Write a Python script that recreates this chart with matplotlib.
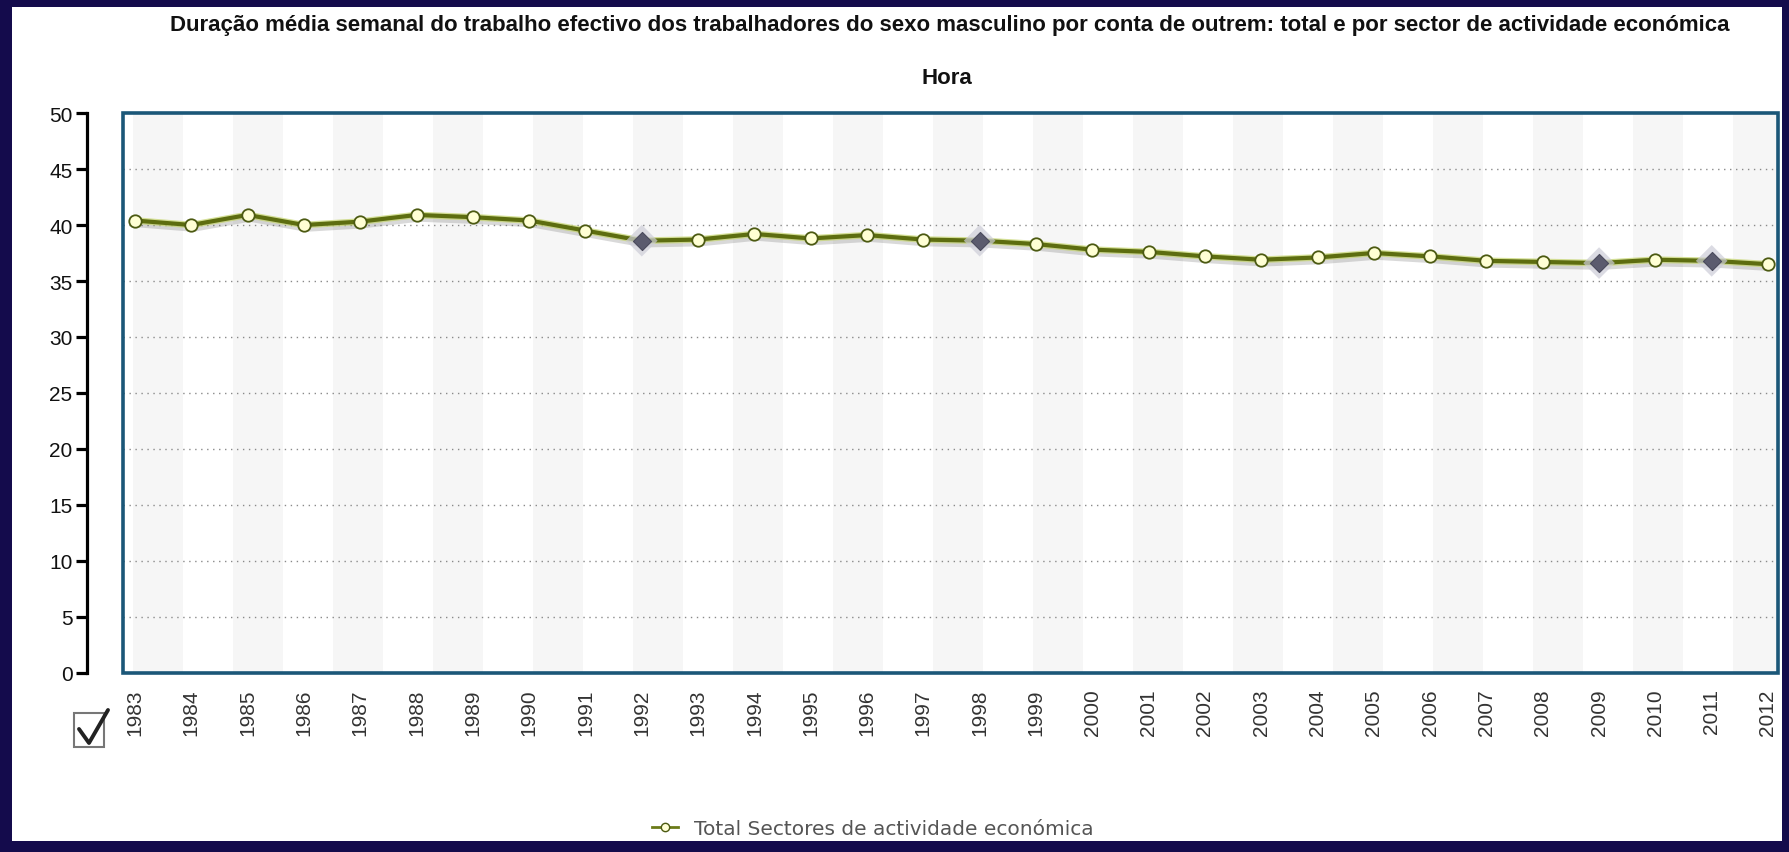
import matplotlib
matplotlib.use('Agg')
import matplotlib.pyplot as plt
import matplotlib.patheffects as pe
from matplotlib.patches import Rectangle
from matplotlib.lines import Line2D
from matplotlib import font_manager

# ---------------- data ----------------
years = list(range(1983, 2013))
hours = [40.4, 40.0, 40.9, 40.0, 40.3, 40.9, 40.7, 40.4, 39.5, 38.6,
         38.7, 39.2, 38.8, 39.1, 38.7, 38.6, 38.3, 37.8, 37.6, 37.2,
         36.9, 37.1, 37.5, 37.2, 36.8, 36.7, 36.6, 36.9, 36.8, 36.5]
break_years = [1992, 1998, 2009, 2011]
y_ticks = list(range(0, 51, 5))
grid_levels = list(range(5, 50, 5))
title = ("Duração média semanal do trabalho efectivo dos trabalhadores do sexo "
         "masculino por conta de outrem: total e por sector de actividade económica")
unit_label = "Hora"
series_label = "Total Sectores de actividade económica"

# ---------------- figure ----------------
W, H, DPI = 1789, 853, 100
fig = plt.figure(figsize=(W / DPI, H / DPI), dpi=DPI)
fig.patch.set_facecolor('#140b4c')

names = {f.name for f in font_manager.fontManager.ttflist}
title_family = 'Liberation Sans Narrow' if 'Liberation Sans Narrow' in names else 'Liberation Sans'


def fx(x):
    return x / W


def fy(y):
    return 1 - y / H


fig.add_artist(Rectangle((fx(12), fy(842)), fx(1782) - fx(12), fy(8) - fy(842),
                         transform=fig.transFigure, facecolor='white',
                         edgecolor='none', zorder=0))

ax = fig.add_axes([fx(123), fy(674), fx(1778) - fx(123), fy(114) - fy(674)])
ax.set_facecolor('white')

# spines first (set_position resets the y ticks)
for s in ['top', 'right', 'bottom']:
    ax.spines[s].set_visible(False)
ax.spines['left'].set_position(('outward', 25.9))
ax.spines['left'].set_color('black')
ax.spines['left'].set_linewidth(2.3)

# alternating vertical bands (background styling)
band_start = (133 - 123) / 1655
band_w = 50 / 1655
k = 0
while band_start + k * 2 * band_w < 1:
    x0 = band_start + k * 2 * band_w
    ax.add_patch(Rectangle((x0, 0), min(band_w, 1 - x0), 1, transform=ax.transAxes,
                           facecolor='#f6f6f6', edgecolor='none', zorder=0))
    k += 1

for v in grid_levels:
    ax.axhline(v, color='#8a8a8a', lw=1.0, ls=(0, (1, 3.3)), zorder=1)

# series line
ax.plot(years, hours, color='#c3d36a', lw=4.8, zorder=3, alpha=0.7,
        solid_capstyle='round',
        path_effects=[pe.SimpleLineShadow(offset=(1.5, -2.5), alpha=0.22, shadow_color='#555555'),
                      pe.Normal()])
ax.plot(years, hours, color='#5d6d10', lw=3.0, zorder=4, solid_capstyle='round')

norm_x = [y for y in years if y not in break_years]
norm_y = [h for y, h in zip(years, hours) if y not in break_years]
brk_x = [y for y in years if y in break_years]
brk_y = [h for y, h in zip(years, hours) if y in break_years]

ax.scatter(norm_x, norm_y, s=80, facecolor='#ffffd4', edgecolor='#4c5a12',
           linewidth=1.3, zorder=5)
ax.scatter(brk_x, brk_y, s=260, marker='D', facecolor='#cdcdd8', edgecolor='none',
           alpha=0.7, zorder=5)
ax.scatter(brk_x, brk_y, s=85, marker='D', facecolor='#5b5b6e', edgecolor='#4a4a5c',
           linewidth=0.8, zorder=6)

# axes limits / ticks
ax.set_xlim(1983 - 12 / 56.31, 2012 + 10 / 56.31)
ax.set_ylim(0, 50)
ax.spines['left'].set_bounds(0, 50)
ax.set_yticks(y_ticks)
ax.set_xticks(years)
ax.tick_params(axis='x', length=0, pad=11)
ax.tick_params(axis='y', direction='out', length=8, width=2.3, color='black', pad=2.5)
ax.set_xticklabels([str(y) for y in years], rotation=90,
                   family='Liberation Sans', fontsize=15, color='#333333')
ax.set_yticklabels([str(v) for v in y_ticks], family='Liberation Sans',
                   fontsize=15, color='#111111')

ax.add_patch(Rectangle((0, 0), 1, 1, transform=ax.transAxes, fill=False,
                       edgecolor='#1b5778', lw=2.6, clip_on=False, zorder=7))

# titles
t1 = fig.text(fx(950), fy(25), title, ha='center', va='center', fontsize=14,
              fontweight='bold', family=title_family, color='#111111')
fig.canvas.draw()
r = fig.canvas.get_renderer()
w = t1.get_window_extent(r).width
fs_title = 14 * 1570 / w
t1.set_fontsize(fs_title)
fig.text(fx(947), fy(78), unit_label, ha='center', va='center', fontsize=fs_title,
         fontweight='bold', family=title_family, color='#111111')

# legend
handle = Line2D([], [], color='#6b7b18', lw=2.0, marker='o', markersize=6,
                markerfacecolor='#ffffd4', markeredgecolor='#4c5a12')
leg = fig.legend(handles=[handle], labels=[series_label], loc='center left',
                 bbox_to_anchor=(fx(652), fy(830)), bbox_transform=fig.transFigure,
                 frameon=False, handlelength=1.3, handletextpad=0.8,
                 borderpad=0, borderaxespad=0,
                 prop={'family': 'DejaVu Sans', 'size': 14.5})
for txt in leg.get_texts():
    txt.set_color('#555555')

# checkbox decoration
fig.add_artist(Rectangle((fx(74), fy(748)), fx(104) - fx(74), fy(714) - fy(748),
                         transform=fig.transFigure, facecolor='white',
                         edgecolor='#777777', lw=1.5, zorder=3))
fig.add_artist(Line2D([fx(79), fx(89), fx(108)], [fy(730), fy(744), fy(711)],
                      transform=fig.transFigure, color='#222222', lw=2.8,
                      solid_capstyle='round', solid_joinstyle='round', zorder=4))

fig.savefig('out.png', dpi=DPI, facecolor=fig.get_facecolor())
